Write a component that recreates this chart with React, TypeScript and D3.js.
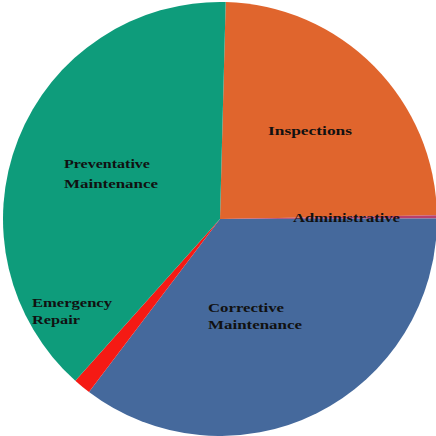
import React from "react";
import * as d3 from "d3";

const categories = ["Inspections", "Administrative", "Corrective Maintenance", "Emergency Repair", "Preventative Maintenance"];
const values = [24.3, 0.25, 35.35, 1.3, 38.8];
const colors = ["#E0652D", "#B8406E", "#45699C", "#F51A14", "#0E9C7B"];
const labelLines = [["Inspections"], ["Administrative"], ["Corrective", "Maintenance"], ["Emergency", "Repair"], ["Preventative", "Maintenance"]];

const labelPos: [number, number, number][] = [
  [268, 135, 20],
  [293, 222, 20],
  [208, 312, 17],
  [32, 307, 17],
  [64, 168, 20],
];
const lineWidths: number[][] = [[84], [107], [76, 94], [80, 48], [86, 94]];

export default function App() {
  const W = 436, H = 436;
  const cx = 220, cy = 219, r = 217;
  const offset = (1.5 * Math.PI) / 180;
  const pie = d3.pie<number>().sort(null).value((d) => d).startAngle(offset).endAngle(2 * Math.PI + offset);
  const arcs = pie(values);
  const arc = d3.arc<d3.PieArcDatum<number>>().innerRadius(0).outerRadius(r);
  return (
    <svg width={W} height={H} style={{ position: "absolute", left: 0, top: 0, background: "#fff" }}>
      <g transform={`translate(${cx},${cy})`}>
        {arcs.map((a, i) => (
          <path key={categories[i]} d={arc(a) || ""} fill={colors[i]} />
        ))}
      </g>
      {labelLines.map((lines, i) => (
        <text key={i} fontFamily="Liberation Serif, Times New Roman, serif" fontWeight="bold" fontSize={13.5} fill="#111">
          {lines.map((l, j) => (
            <tspan key={j} x={labelPos[i][0]} y={labelPos[i][1] + j * labelPos[i][2]} textLength={lineWidths[i][j]} lengthAdjust="spacingAndGlyphs">
              {l}
            </tspan>
          ))}
        </text>
      ))}
    </svg>
  );
}
